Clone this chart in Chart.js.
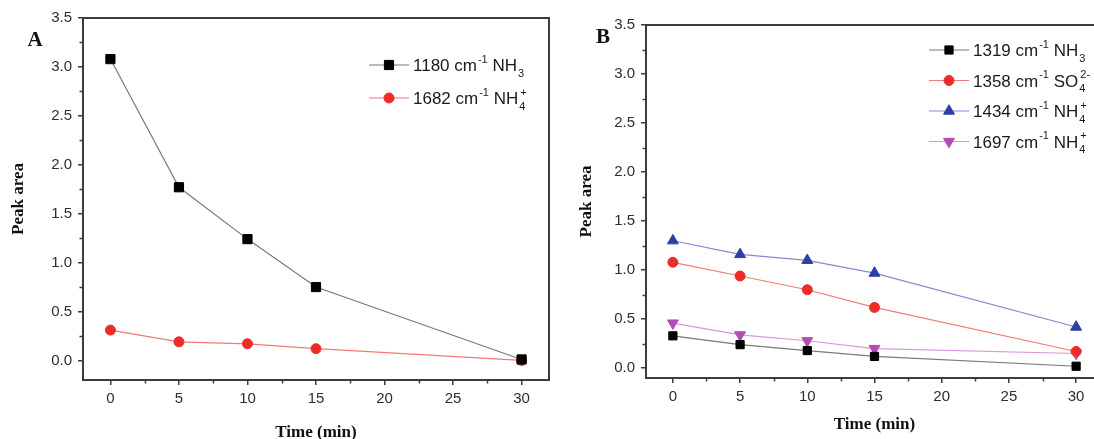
<!DOCTYPE html>
<html><head><meta charset="utf-8">
<script src="https://cdn.jsdelivr.net/npm/chart.js@4.4.1/dist/chart.umd.min.js"></script>
<style>
html,body{margin:0;padding:0;background:#fff;overflow:hidden;width:1094px;height:439px;position:relative;}
#wa{position:absolute;left:0;top:0;width:560px;height:439px;}
#wb{position:absolute;left:560px;top:0;width:560px;height:439px;}
</style></head><body>
<div id="wa"><canvas id="ca"></canvas></div>
<div id="wb"><canvas id="cb"></canvas></div>
<script>
// ---- data ----
const timeMin = [0, 5, 10, 15, 30];
const xTickValues = [0, 5, 10, 15, 20, 25, 30];
const yTickValues = [0, 0.5, 1.0, 1.5, 2.0, 2.5, 3.0, 3.5];

// Panel A
const a1180NH3 = [3.08, 1.77, 1.24, 0.75, 0.01];
const a1682NH4 = [0.31, 0.19, 0.17, 0.12, 0.00];
const legendA = ['1180 cm^{-1} NH_{3}', '1682 cm^{-1} NH_{4}^{+}'];

// Panel B
const b1319NH3 = [0.33, 0.24, 0.18, 0.12, 0.02];
const b1358SO4 = [1.08, 0.94, 0.80, 0.62, 0.17];
const b1434NH4 = [1.30, 1.16, 1.10, 0.97, 0.42];
const b1697NH4 = [0.46, 0.34, 0.28, 0.20, 0.15];
const legendB = ['1319 cm^{-1} NH_{3}', '1358 cm^{-1} SO_{4}^{2-}', '1434 cm^{-1} NH_{4}^{+}', '1697 cm^{-1} NH_{4}^{+}'];

const panelLetters = ['A', 'B'];
const xTitle = 'Time (min)';
const yTitle = 'Peak area';

// ---- styles ----
const S = {
  black:   {mark:'#000000', line:'#7a7a7a', style:'rect',     r:6.5, rot:0},
  red:     {mark:'#ee2b2b', line:'#f27a7a', style:'circle',   r:5,   rot:0},
  blue:    {mark:'#2b3fa6', line:'#8289d2', style:'triangle', r:6.3, rot:0},
  magenta: {mark:'#b24db3', line:'#dc95dc', style:'triangle', r:6.3, rot:180}
};

function ds(label, vals, st) {
  return {
    label: label,
    data: timeMin.map((t, i) => ({x: t, y: vals[i]})),
    borderColor: st.line, borderWidth: 1.2,
    pointStyle: st.style, pointRadius: st.r, pointRotation: st.rot,
    pointBackgroundColor: st.mark, pointBorderColor: st.mark, pointBorderWidth: 1,
    tension: 0, fill: false, clip: false
  };
}

function parseRich(s) {
  const out = []; const re = /(\^\{[^}]*\}|_\{[^}]*\})/g; let last = 0, m;
  while ((m = re.exec(s))) {
    if (m.index > last) out.push({t: s.slice(last, m.index), mode: 'n'});
    out.push({t: m[0].slice(2, -1), mode: m[0][0] === '^' ? 'sup' : 'sub'});
    last = re.lastIndex;
  }
  if (last < s.length) out.push({t: s.slice(last), mode: 'n'});
  return out;
}

function drawRich(ctx, s, x, y, size) {
  const toks = parseRich(s);
  const fam = '"Liberation Sans", Arial, sans-serif';
  const small = Math.round(size * 0.62);
  const base = y + size * 0.36;
  ctx.fillStyle = '#1a1a1a'; ctx.textBaseline = 'alphabetic'; ctx.textAlign = 'left';
  let cx = x;
  for (let i = 0; i < toks.length; i++) {
    const tk = toks[i];
    if (tk.mode === 'n') {
      ctx.font = size + 'px ' + fam; ctx.fillText(tk.t, cx, base); cx += ctx.measureText(tk.t).width;
    } else {
      ctx.font = small + 'px ' + fam;
      const supY = base - size * 0.5, subY = base + size * 0.33;
      ctx.fillText(tk.t, cx + 1, tk.mode === 'sup' ? supY : subY);
      let w = ctx.measureText(tk.t).width + 1;
      const nx = toks[i + 1];
      if (tk.mode === 'sub' && nx && nx.mode === 'sup') {
        ctx.fillText(nx.t, cx + 2, supY);
        w = Math.max(w, ctx.measureText(nx.t).width + 2); i++;
      }
      cx += w;
    }
  }
}

const decor = {
  id: 'decor',
  beforeDatasetsDraw(chart, args, o) {
    const ctx = chart.ctx, ca = chart.chartArea, xs = chart.scales.x, ys = chart.scales.y;
    ctx.save();
    ctx.strokeStyle = '#3c3c3c'; ctx.lineWidth = 1.5;
    const isMajor = (v, step) => Math.abs(v / step - Math.round(v / step)) < 1e-6;
    for (let v = Math.ceil(xs.min / o.xMinor) * o.xMinor; v <= xs.max + 1e-9; v += o.xMinor) {
      if (isMajor(v, o.xMajor)) continue;
      const px = Math.round(xs.getPixelForValue(v)) + 0.5;
      ctx.beginPath(); ctx.moveTo(px, ca.bottom); ctx.lineTo(px, ca.bottom + 3.5); ctx.stroke();
    }
    for (let v = Math.ceil(ys.min / o.yMinor) * o.yMinor; v <= ys.max + 1e-9; v += o.yMinor) {
      if (isMajor(v, o.yMajor)) continue;
      const py = Math.round(ys.getPixelForValue(v)) + 0.5;
      ctx.beginPath(); ctx.moveTo(ca.left - 3.5, py); ctx.lineTo(ca.left, py); ctx.stroke();
    }
    ctx.lineWidth = 2; ctx.strokeStyle = '#3c3c3c';
    ctx.strokeRect(ca.left, ca.top, ca.right - ca.left, ca.bottom - ca.top);
    ctx.restore();
  },
  afterDraw(chart, args, o) {
    const ctx = chart.ctx;
    ctx.save();
    ctx.font = 'bold 21px "Liberation Serif", "Times New Roman", serif';
    ctx.fillStyle = '#111'; ctx.textAlign = 'center'; ctx.textBaseline = 'middle';
    ctx.fillText(o.letter, o.letterX, o.letterY);
    chart.data.datasets.forEach((d, i) => {
      const y = o.legY + i * o.legRow;
      ctx.strokeStyle = d.borderColor; ctx.lineWidth = 1.2;
      ctx.beginPath(); ctx.moveTo(o.legX, y); ctx.lineTo(o.legX + o.legLine, y); ctx.stroke();
      ctx.fillStyle = d.pointBackgroundColor; ctx.strokeStyle = d.pointBorderColor; ctx.lineWidth = 1;
      Chart.helpers.drawPoint(ctx, {pointStyle: d.pointStyle, radius: d.pointRadius, rotation: d.pointRotation, borderWidth: 1}, o.legX + o.legLine / 2, y);
      drawRich(ctx, o.labels[i], o.legX + o.legLine + 4, y, o.legFont);
    });
    ctx.restore();
  }
};

function makeChart(id, datasets, g) {
  return new Chart(document.getElementById(id), {
    type: 'line',
    data: {datasets: datasets},
    plugins: [decor],
    options: {
      responsive: true, maintainAspectRatio: false, animation: false,
      layout: {padding: {left: 0, top: g.top, right: g.right, bottom: 0}},
      plugins: {
        legend: {display: false}, tooltip: {enabled: false},
        decor: {
          letter: g.letter, letterX: g.letterX, letterY: g.letterY,
          legX: g.legX, legY: g.legY, legRow: g.legRow, legLine: 40, legFont: g.legFont, labels: g.labels,
          xMinor: 2.5, xMajor: 5, yMinor: 0.25, yMajor: 0.5
        }
      },
      scales: {
        x: {
          type: 'linear', min: -2, max: 32,
          afterBuildTicks: s => { s.ticks = xTickValues.map(v => ({value: v})); },
          afterFit: s => { s.height = g.xH; },
          grid: {display: true, drawOnChartArea: false, drawTicks: true, tickLength: 5, color: '#3c3c3c', lineWidth: 1.5},
          border: {display: true, color: '#3c3c3c', width: 2},
          ticks: {color: '#2e2e2e', font: {family: '"Liberation Sans", Arial, sans-serif', size: 15}, padding: 5, maxRotation: 0, autoSkip: false,
                  callback: v => String(v)},
          title: {display: true, text: xTitle, color: '#111',
                  font: {family: '"Liberation Serif", "Times New Roman", serif', weight: 'bold', size: 17, lineHeight: 1},
                  padding: {top: 0, bottom: g.xTitlePad}}
        },
        y: {
          type: 'linear', min: g.yMin, max: 3.5,
          afterBuildTicks: s => { s.ticks = yTickValues.map(v => ({value: v})); },
          afterFit: s => { s.width = g.yW; },
          grid: {display: true, drawOnChartArea: false, drawTicks: true, tickLength: 5, color: '#3c3c3c', lineWidth: 1.5},
          border: {display: true, color: '#3c3c3c', width: 2},
          ticks: {color: '#2e2e2e', font: {family: '"Liberation Sans", Arial, sans-serif', size: 15}, padding: 6, autoSkip: false,
                  callback: v => Number(v).toFixed(1)},
          title: {display: true, text: yTitle, color: '#111',
                  font: {family: '"Liberation Serif", "Times New Roman", serif', weight: 'bold', size: 17, lineHeight: 1},
                  padding: {top: g.yTitlePad, bottom: 0}}
        }
      }
    }
  });
}

makeChart('ca', [
  ds(legendA[0], a1180NH3, S.black),
  ds(legendA[1], a1682NH4, S.red)
], {top: 18, right: 11, xH: 59, yW: 83, yMin: -0.2, letter: panelLetters[0], letterX: 35, letterY: 41,
    legX: 369, legY: 65, legRow: 33, legFont: 17, labels: legendA, xTitlePad: -2, yTitlePad: 10});

makeChart('cb', [
  ds(legendB[0], b1319NH3, Object.assign({}, S.black, {r: 5.8})),
  ds(legendB[1], b1358SO4, S.red),
  ds(legendB[2], b1434NH4, S.blue),
  ds(legendB[3], b1697NH4, S.magenta)
], {top: 25, right: 17, xH: 61, yW: 86, yMin: -0.1, letter: panelLetters[1], letterX: 43, letterY: 38,
    legX: 369, legY: 50, legRow: 30.5, legFont: 17, labels: legendB, xTitlePad: 6, yTitlePad: 18});
</script>
</body></html>
